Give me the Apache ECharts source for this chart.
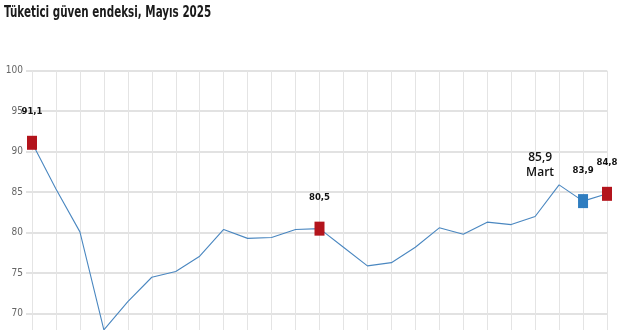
<!DOCTYPE html>
<html>
<head>
<meta charset="utf-8">
<script src="https://cdn.jsdelivr.net/npm/echarts@6/dist/echarts.min.js"></script>
<style>
html,body{margin:0;padding:0;background:#fff;}
#c{width:629px;height:330px;}
</style>
</head>
<body>
<div id="c"></div>
<script>
const titleText = 'Tüketici güven endeksi, Mayıs 2025';
const months = ['May 23','Haz 23','Tem 23','Ağu 23','Eyl 23','Eki 23','Kas 23','Ara 23',
  'Oca 24','Şub 24','Mar 24','Nis 24','May 24','Haz 24','Tem 24','Ağu 24','Eyl 24','Eki 24','Kas 24','Ara 24',
  'Oca 25','Şub 25','Mar 25','Nis 25','May 25'];
const values = [91.1, 85.4, 80.1, 68.0, 71.5, 74.5, 75.2, 77.1,
  80.4, 79.3, 79.4, 80.4, 80.5, 78.2, 75.9, 76.3, 78.2, 80.6, 79.8, 81.3,
  81.0, 82.0, 85.9, 83.9, 84.8];
const redIdx = [0, 12, 24];
const blueIdx = [23];
const noteIdx = 22;
const noteText = 'Mart';
const yTicks = {min: 60, max: 100, interval: 5};

const condensed = '"Liberation Sans Narrow","DejaVu Sans Condensed","Roboto Condensed",Arial,sans-serif';
const fmt = v => String(v.toFixed(1)).replace('.', ',');

const data = values.map((v, i) => {
  const d = {value: v};
  if (redIdx.includes(i) || blueIdx.includes(i)) {
    d.symbol = 'rect';
    d.symbolSize = [10, 14];
    d.itemStyle = {color: blueIdx.includes(i) ? '#2f7dc0' : '#b3141c'};
    d.label = {show: true, position: 'top', distance: 19, formatter: fmt(v),
      fontFamily: condensed, fontWeight: 'bold', fontSize: 9.5, color: '#111'};
  } else if (i === noteIdx) {
    d.symbol = 'circle';
    d.symbolSize = 1;
    d.itemStyle = {color: 'rgba(0,0,0,0)'};
    d.label = {show: true, position: 'top', distance: 4, offset: [-19, 0],
      formatter: fmt(v) + '\n' + noteText, align: 'center',
      fontFamily: '"Open Sans","Noto Sans",sans-serif', fontWeight: 600, fontSize: 12, lineHeight: 15, color: '#111'};
  } else {
    d.symbol = 'none';
  }
  return d;
});

const chart = echarts.init(document.getElementById('c'));
chart.setOption({
  animation: false,
  graphic: [{
    type: 'text', left: 4, top: 5, scaleX: 0.72,
    style: {text: titleText, font: 'bold 16px ' + condensed, fill: '#1a1a1a'}
  }],
  grid: {left: 32, right: 22, top: 70.7, height: 324, containLabel: false, outerBoundsMode: 'none'},
  xAxis: {type: 'category', data: months, boundaryGap: false,
    axisLine: {show: false}, axisTick: {show: false}, axisLabel: {show: false, interval: 0},
    splitLine: {show: true, interval: 0, lineStyle: {color: '#e4e4e4', width: 1}}},
  yAxis: {type: 'value', min: yTicks.min, max: yTicks.max, interval: yTicks.interval,
    axisLine: {show: false},
    axisTick: {show: true, length: 6, lineStyle: {color: '#e2e2e2', width: 2}},
    axisLabel: {margin: 9, fontFamily: condensed, fontSize: 10, color: '#666'},
    splitLine: {show: true, lineStyle: {color: '#e2e2e2', width: 2}}},
  series: [{
    type: 'line', data: data, showSymbol: true,
    lineStyle: {color: '#4a87c0', width: 1.1},
    itemStyle: {color: '#4a87c0'}
  }]
});
</script>
</body>
</html>
